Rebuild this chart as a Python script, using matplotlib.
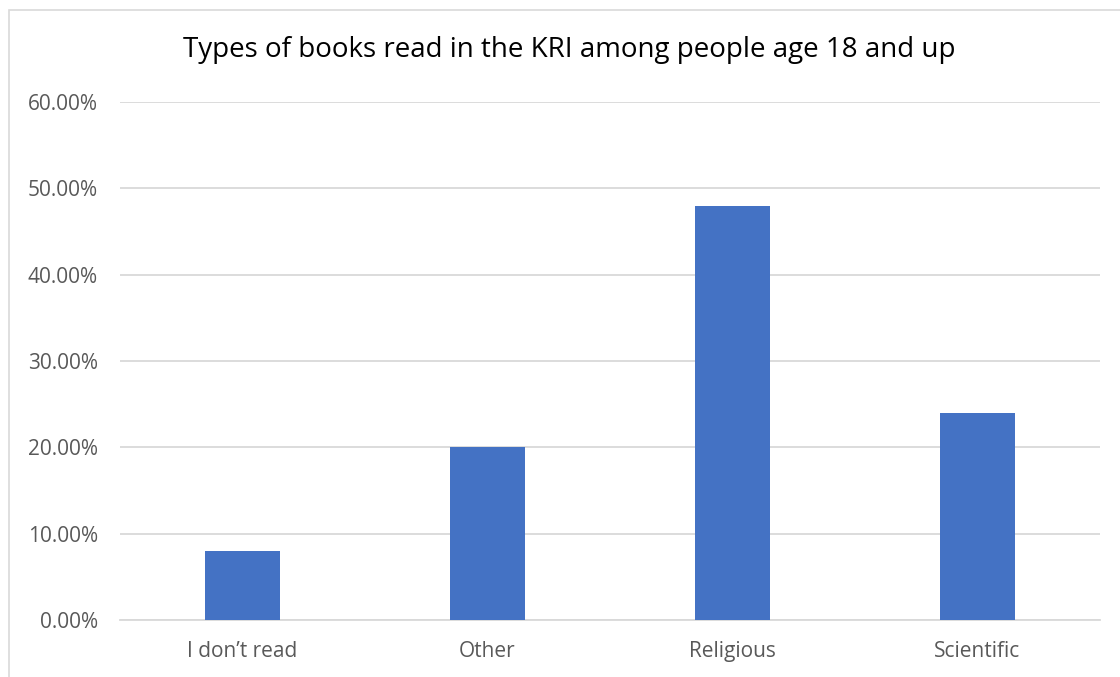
import matplotlib as mpl
mpl.use("Agg")
import matplotlib.pyplot as plt
from matplotlib.patches import Rectangle
from matplotlib.ticker import FuncFormatter

categories = ["I don\u2019t read", "Other", "Religious", "Scientific"]
shares = [0.08, 0.20, 0.48, 0.24]
y_ticks = [0.0, 0.1, 0.2, 0.3, 0.4, 0.5, 0.6]

BAR_COLOR = "#4472C4"
GRID_COLOR = "#D9D9D9"
TEXT_COLOR = "#595959"

plt.rcParams["font.family"] = ["Open Sans", "DejaVu Sans"]

W, H = 1120, 677
fig = plt.figure(figsize=(W / 100, H / 100), dpi=100)

# chart area outline, runs off the right and bottom edges
fig.patches.append(Rectangle((9 / W, -0.05), 1.2, (H - 10) / H + 0.05,
                             transform=fig.transFigure, fill=False,
                             edgecolor=GRID_COLOR, linewidth=1.2))

ax = fig.add_axes([120 / W, 57 / H, 980 / W, 518 / H])
x = range(len(categories))
ax.bar(x, shares, width=0.31, color=BAR_COLOR, zorder=3)

ax.set_xlim(-0.5, len(categories) - 0.5)
ax.set_ylim(0, 0.6)
ax.set_yticks(y_ticks)
ax.yaxis.set_major_formatter(FuncFormatter(lambda v, _: f"{v * 100:.2f}%"))
ax.set_xticks(list(x))
ax.set_xticklabels(categories)

ax.grid(axis="y", color=GRID_COLOR, linewidth=1.3, zorder=0)
for side in ["top", "right", "left"]:
    ax.spines[side].set_visible(False)
ax.spines["bottom"].set_color(GRID_COLOR)
ax.spines["bottom"].set_linewidth(1.3)
ax.tick_params(axis="both", length=0, labelsize=15, labelcolor=TEXT_COLOR)
ax.tick_params(axis="y", pad=16)
ax.tick_params(axis="x", pad=15)

fig.text(569 / W, 1 - 50 / H, "Types of books read in the KRI among people age 18 and up",
         ha="center", va="center", fontsize=20, color="black")

fig.savefig("out.png", dpi=100)
